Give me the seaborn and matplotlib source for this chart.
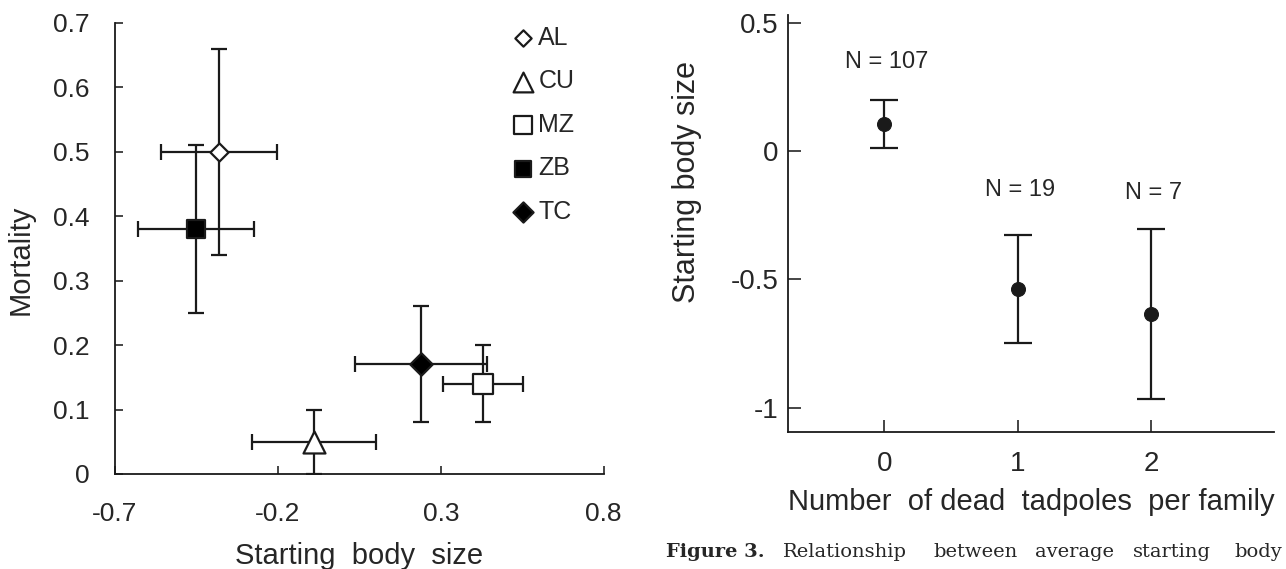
import matplotlib
matplotlib.use("Agg")
import matplotlib.pyplot as plt
import pandas as pd
import seaborn as sns

# Left panel: population means with SE bars
populations = ["AL", "CU", "MZ", "ZB", "TC"]
body_size = [-0.38, -0.09, 0.43, -0.45, 0.24]
body_size_err = [0.178, 0.19, 0.122, 0.178, 0.203]
mortality = [0.50, 0.05, 0.14, 0.38, 0.17]
mortality_err = [0.16, 0.05, 0.06, 0.13, 0.09]
pop_markers = ["D", "^", "s", "s", "D"]
pop_fills = ["white", "white", "white", "black", "black"]
pop_sizes = [85, 250, 200, 175, 130]

# Right panel: starting body size by number of dead tadpoles
n_dead = [0, 1, 2]
size_mean = [0.105, -0.538, -0.635]
size_err = [0.094, 0.209, 0.331]
n_labels = ["N = 107", "N = 19", "N = 7"]
n_label_y = [0.347, -0.152, -0.164]

caption_words = ["Relationship", "between", "average", "starting", "body"]

sns.set_style("ticks")
plt.rcParams["font.family"] = ["Liberation Sans", "DejaVu Sans"]
INK = "#1a1a1a"

fig = plt.figure(figsize=(12.86, 5.69), dpi=100)
ax1 = fig.add_axes([0.0894, 0.167, 0.380, 0.793])
ax2 = fig.add_axes([0.6128, 0.2413, 0.378, 0.7323])

# --- left panel ---
ax1.errorbar(body_size, mortality, xerr=body_size_err, yerr=mortality_err,
             fmt="none", ecolor=INK, elinewidth=1.6, capsize=5.5,
             capthick=1.6, zorder=1)
df = pd.DataFrame({"x": body_size, "y": mortality, "pop": populations})
for i, pop in enumerate(populations):
    sns.scatterplot(data=df[df["pop"] == pop], x="x", y="y", ax=ax1,
                    marker=pop_markers[i], s=pop_sizes[i], color=pop_fills[i],
                    edgecolor=INK, linewidth=1.6, label=pop, zorder=3)

ax1.set_xlim(-0.7, 0.8)
ax1.set_ylim(0, 0.7)
ax1.set_xticks([-0.7, -0.2, 0.3, 0.8])
ax1.set_xticklabels(["-0.7", "-0.2", "0.3", "0.8"])
ax1.set_yticks([0, 0.1, 0.2, 0.3, 0.4, 0.5, 0.6, 0.7])
ax1.set_yticklabels(["0", "0.1", "0.2", "0.3", "0.4", "0.5", "0.6", "0.7"])
ax1.tick_params(axis="x", direction="in", length=6, width=1.2, pad=20,
                labelsize=19)
ax1.tick_params(axis="y", direction="in", length=6, width=1.2, pad=18,
                labelsize=19)
ax1.set_xlabel("Starting  body  size", fontsize=21)
ax1.set_ylabel("Mortality", fontsize=21)
ax1.xaxis.set_label_coords(0.5, -0.15)
ax1.yaxis.set_label_coords(-0.165, 0.475)
ax1.legend(loc="upper left", bbox_to_anchor=(0.81, 0.993), frameon=False,
           fontsize=18, handletextpad=0.1, handlelength=1.0,
           labelspacing=0.78, borderpad=0.0, borderaxespad=0.0,
           markerscale=0.9)

# --- right panel ---
ax2.errorbar(n_dead, size_mean, yerr=size_err, fmt="none", ecolor=INK,
             elinewidth=1.6, capsize=10.4, capthick=1.6, zorder=1)
sns.scatterplot(x=n_dead, y=size_mean, ax=ax2, marker="o", s=100,
                color=INK, edgecolor=INK, zorder=3)
for xi, yi, lab in zip(n_dead, n_label_y, n_labels):
    ax2.text(xi + 0.02, yi, lab, ha="center", va="center", fontsize=17)

ax2.set_xlim(-0.72, 2.92)
ax2.set_ylim(-1.094, 0.53)
ax2.set_xticks(n_dead)
ax2.set_yticks([0.5, 0, -0.5, -1])
ax2.set_yticklabels(["0.5", "0", "-0.5", "-1"])
ax2.tick_params(axis="x", direction="in", length=9, width=1.2, pad=14,
                labelsize=20)
ax2.tick_params(axis="y", direction="in", length=9, width=1.2, pad=7,
                labelsize=20)
ax2.set_xlabel("Number  of dead  tadpoles  per family", fontsize=21)
ax2.set_ylabel("Starting body size", fontsize=22)
ax2.xaxis.set_label_coords(0.5, -0.135)
ax2.yaxis.set_label_coords(-0.177, 0.6)

for ax in (ax1, ax2):
    sns.despine(ax=ax)
    for side in ("left", "bottom"):
        ax.spines[side].set_linewidth(1.3)
        ax.spines[side].set_color(INK)

# caption below right panel
serif = ["DejaVu Serif", "Liberation Serif"]
fig.text(666 / 1286, 0.03, "Figure 3.", fontsize=14, fontweight="bold",
         va="center", family=serif)
for word, px in zip(caption_words, [783, 933, 1035, 1133, 1234]):
    fig.text(px / 1286, 0.03, word, fontsize=14, va="center", family=serif)

fig.savefig("out.png", dpi=100)
